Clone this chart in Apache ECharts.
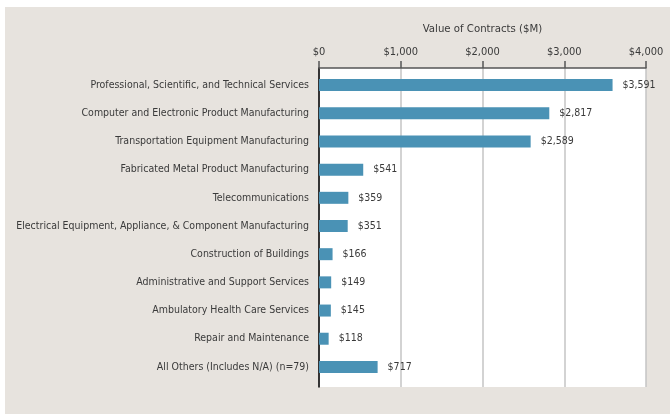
<!DOCTYPE html>
<html><head><meta charset="utf-8">
<script src="https://cdn.jsdelivr.net/npm/echarts@6/dist/echarts.min.js"></script>
<style>
html,body{margin:0;padding:0;background:#fff;}
#c{position:absolute;left:5px;top:7px;width:665px;height:407px;}
</style></head><body>
<div id="c"></div>
<script>
const categories = [
  "Professional, Scientific, and Technical Services",
  "Computer and Electronic Product Manufacturing",
  "Transportation Equipment Manufacturing",
  "Fabricated Metal Product Manufacturing",
  "Telecommunications",
  "Electrical Equipment, Appliance, & Component Manufacturing",
  "Construction of Buildings",
  "Administrative and Support Services",
  "Ambulatory Health Care Services",
  "Repair and Maintenance",
  "All Others (Includes N/A) (n=79)"
];
const values = [3591, 2817, 2589, 541, 359, 351, 166, 149, 145, 118, 717];
const axisTitle = "Value of Contracts ($M)";
const axisMin = 0, axisMax = 4000, axisStep = 1000;

const FONT = "'DejaVu Sans Condensed', 'DejaVu Sans', sans-serif";
const TXT = "#3a3a3a";
const fmt = v => "$" + v.toLocaleString("en-US");

const chart = echarts.init(document.getElementById("c"), null, {renderer: "canvas"});
chart.setOption({
  backgroundColor: "#e7e3de",
  animation: false,
  textStyle: {fontFamily: FONT},
  grid: [
    {left: 314, right: 24, top: 61, bottom: 27, show: true, backgroundColor: "#ffffff",
     borderWidth: 0, borderColor: "transparent", outerBoundsMode: "none", containLabel: false},
    {left: 314, right: 24, top: 64, bottom: 33, outerBoundsMode: "none", containLabel: false}
  ],
  xAxis: [
    {
      gridIndex: 0, type: "value", position: "top", min: axisMin, max: axisMax, interval: axisStep,
      name: axisTitle, nameLocation: "middle", nameGap: 33,
      nameTextStyle: {fontFamily: FONT, fontSize: 11.3, color: TXT},
      axisLine: {show: true, onZero: false, lineStyle: {color: "#555", width: 1.5}},
      axisTick: {show: true, length: 7, lineStyle: {color: "#555", width: 1.5}},
      axisLabel: {fontFamily: FONT, fontSize: 11, color: TXT, margin: 10, formatter: fmt},
      splitLine: {show: true, lineStyle: {color: "#c4c4c4", width: 1.5}}
    },
    {
      gridIndex: 1, type: "value", min: axisMin, max: axisMax, show: false
    }
  ],
  yAxis: [
    {
      gridIndex: 0, type: "value", min: 0, max: 1,
      axisLine: {show: true, onZero: false, lineStyle: {color: "#000", width: 1.5}},
      axisTick: {show: false}, axisLabel: {show: false}, splitLine: {show: false}
    },
    {
      gridIndex: 1, type: "category", data: categories, inverse: true,
      axisLine: {show: false}, axisTick: {show: false}, splitLine: {show: false},
      axisLabel: {fontFamily: FONT, fontSize: 10.5, color: TXT, margin: 10}
    }
  ],
  series: [{
    type: "bar", xAxisIndex: 1, yAxisIndex: 1, data: values, barWidth: 12,
    itemStyle: {color: "#4a92b5"},
    label: {show: true, position: "right", distance: 10, fontFamily: FONT, fontSize: 10.5, color: TXT, formatter: p => fmt(p.value)}
  }]
});
</script>
</body></html>
